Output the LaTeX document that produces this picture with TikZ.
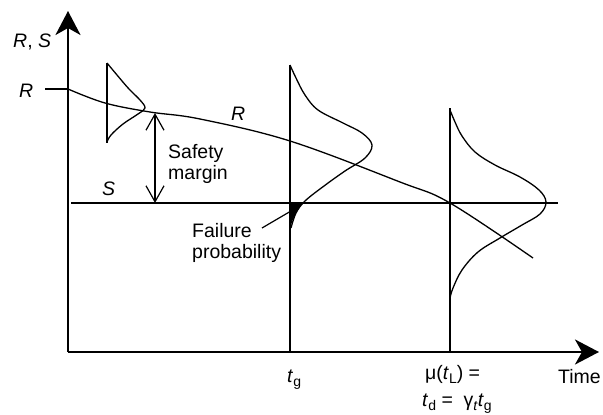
\documentclass[tikz,border=0pt]{standalone}
\usepackage{fontspec}
\setmainfont{Liberation Sans}
\usetikzlibrary{arrows.meta}
\newcommand\lowsub[1]{\raisebox{-0.45ex}{\fontsize{14}{14}\selectfont #1}}
\begin{document}
\begin{tikzpicture}[x=1pt,y=-1pt,
  axis/.style={line width=2.4pt,-{Stealth[length=24pt,width=25pt,inset=7pt]}},
  thinline/.style={line width=1.3pt,line join=round},
  dimarrow/.style={line width=1.2pt,{Straight Barb[length=16pt,width=18pt]}-{Straight Barb[length=16pt,width=18pt]}},
  lbl/.style={inner sep=0pt,anchor=base west,font=\fontsize{19.5}{21.5}\selectfont},
  blk/.style={inner sep=0pt,font=\fontsize{19.5}{21.5}\selectfont}]
\useasboundingbox (0,0) rectangle (603,415);
% axes
\coordinate (O) at (68,352);
\coordinate (Ytop) at (68,11);
\coordinate (Xend) at (599,352);
\draw[axis] (O) -- (Ytop);
\draw[axis] (O) -- (Xend);
% R start tick
\coordinate (Rtick) at (45,89);
\coordinate (R0) at (68,89);
\draw[thinline] (Rtick) -- (R0);
% R curve
\draw[thinline] plot[smooth,tension=0.6] coordinates {(68,89) (105,103) (150,112) (200,119) (290,141) (400,182) (450,203) (533,258)};
% S line
\coordinate (S0) at (71,203);
\coordinate (S1) at (558,203);
\draw[thinline] (S0) -- (S1);
% distribution 1
\coordinate (D1top) at (107,63);
\coordinate (D1bot) at (107,143);
\draw[thinline] (D1top) -- (D1bot);
\draw[thinline] plot[smooth,tension=0.6] coordinates {(107,63) (117,75) (129,89) (140,100) (145,108) (138,114) (123,124) (111,135) (107,142)};
% distribution 2
\coordinate (D2top) at (290,65);
\coordinate (D2bot) at (290,352);
\draw[thinline] (D2top) -- (D2bot);
\fill (290,203) -- (303,203) -- (298,210) -- (293,219) -- (290,228) -- cycle;
\draw[thinline] plot[smooth,tension=0.6] coordinates {(290,65) (296,78) (305,95) (318,110) (343,123) (362,133) (372,145) (365,158) (345,171) (324,186) (305,201) (296,213) (291,228)};
% distribution 3
\coordinate (D3top) at (450,108);
\coordinate (D3bot) at (450,352);
\draw[thinline] (D3top) -- (D3bot);
\draw[thinline] plot[smooth,tension=0.6] coordinates {(450,110) (455,122) (462,136) (475,152) (495,165) (520,177) (539,190) (546,202) (540,214) (522,225) (500,238) (478,252) (462,270) (453,288) (450,298)};
% safety margin arrow
\coordinate (SMtop) at (155,113);
\coordinate (SMbot) at (155,203);
\draw[dimarrow] (SMtop) -- (SMbot);
% failure probability pointer
\node[blk,align=left,anchor=north west] (fp) at (192,223) {Failure\\probability};
\coordinate (FPtip) at (291,211);
\coordinate (FPfoot) at (262,228);
\draw[line width=1.2pt] (FPfoot) -- (FPtip);
% labels
\node[lbl] (RS) at (13,47) {\textit{R}, \textit{S}};
\node[lbl] (Rl) at (19,97) {\textit{R}};
\node[lbl] (Rm) at (231,120) {\textit{R}};
\node[lbl] (Sl) at (102,195) {\textit{S}};
\node[blk,align=left,anchor=north west] (sm) at (168,144) {Safety\\margin};
\node[lbl] (tg) at (287,382) {\textit{t}\lowsub{g}};
\node[lbl] (mu) at (425,379) {μ(\textit{t}\lowsub{L}) =};
\node[lbl] (td) at (422,406) {\textit{t}\lowsub{d} = \ γ\lowsub{\textit{t}}\textit{t}\lowsub{g}};
\node[lbl] (time) at (558,383) {Time};
\end{tikzpicture}
\end{document}
